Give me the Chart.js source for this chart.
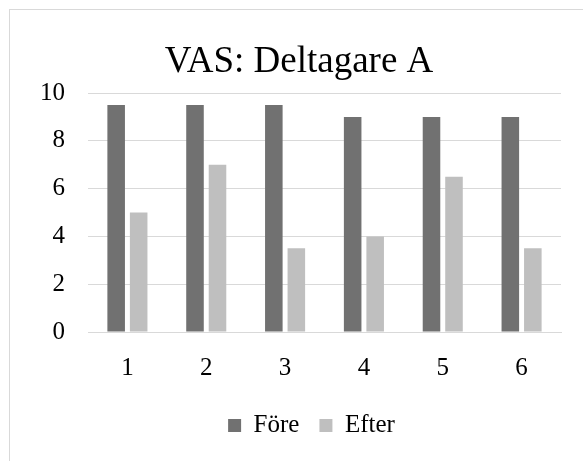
<!DOCTYPE html>
<html>
<head>
<meta charset="utf-8">
<script src="https://cdn.jsdelivr.net/npm/chart.js@4/dist/chart.umd.min.js"></script>
<style>
  body { margin: 0; background: #fff; overflow: hidden; }
  .frame {
    position: absolute; left: 9px; top: 9px;
    width: 578px; height: 452px;
    border-left: 1px solid #d9d9d9; border-top: 1px solid #d9d9d9;
  }
  canvas { display: block; }
</style>
</head>
<body>
<div class="frame"><canvas id="vasChart" width="578" height="452"></canvas></div>
<script>
// Chart data
const chartTitle = 'VAS: Deltagare A';
const sessions = ['1', '2', '3', '4', '5', '6'];
const foreValues = [9.5, 9.5, 9.5, 9, 9, 9];
const efterValues = [5, 7, 3.5, 4, 6.5, 3.5];
const yTicks = [0, 2, 4, 6, 8, 10];

const serif = '"Liberation Serif", "Times New Roman", serif';

// Title drawn centred on the whole frame
const centerTitle = {
    id: 'centerTitle',
    afterDraw: function(chart) {
        const ctx = chart.ctx;
        ctx.save();
        ctx.font = '37px ' + serif;
        ctx.fillStyle = '#000';
        ctx.textAlign = 'center';
        ctx.textBaseline = 'alphabetic';
        ctx.fillText(chartTitle, chart.width / 2, 62);
        ctx.restore();
    }
};

// The legend in the original sits a bit right of centre
const nudgeLegend = {
    id: 'nudgeLegend',
    afterLayout: function(chart) {
        if (chart.legend) {
            chart.legend.left += 12;
            chart.legend.right += 12;
        }
    }
};

function loadVasChart() {
    const ctx = document.getElementById('vasChart').getContext('2d');
    new Chart(ctx, {
        type: 'bar',
        data: {
            labels: sessions,
            datasets: [{
                label: 'Före',
                data: foreValues,
                backgroundColor: '#717171',
                categoryPercentage: 0.571,
                barPercentage: 0.78
            }, {
                label: 'Efter',
                data: efterValues,
                backgroundColor: '#bfbfbf',
                categoryPercentage: 0.571,
                barPercentage: 0.78
            }]
        },
        options: {
            responsive: false,
            animation: false,
            layout: {
                padding: { top: 83, left: 28, right: 27, bottom: 14 }
            },
            plugins: {
                title: { display: false },
                tooltip: { enabled: false },
                legend: {
                    position: 'bottom',
                    labels: {
                        color: '#000',
                        font: { family: serif, size: 25 },
                        boxWidth: 13,
                        boxHeight: 13,
                        padding: 20
                    }
                }
            },
            scales: {
                x: {
                    afterFit: function(scale) { scale.height = 61; },
                    grid: { display: false },
                    border: { color: '#d9d9d9' },
                    ticks: {
                        color: '#000',
                        font: { family: serif, size: 25 },
                        padding: 13
                    }
                },
                y: {
                    min: 0,
                    max: 10,
                    afterFit: function(scale) { scale.width = 50; },
                    afterBuildTicks: function(scale) {
                        scale.ticks = yTicks.map(function(v) { return { value: v }; });
                    },
                    grid: { color: '#d9d9d9', drawTicks: false },
                    border: { display: false },
                    ticks: {
                        color: '#000',
                        font: { family: serif, size: 25 },
                        padding: 23
                    }
                }
            }
        },
        plugins: [centerTitle, nudgeLegend]
    });
}

window.onload = function() {
    loadVasChart();
};
</script>
</body>
</html>
